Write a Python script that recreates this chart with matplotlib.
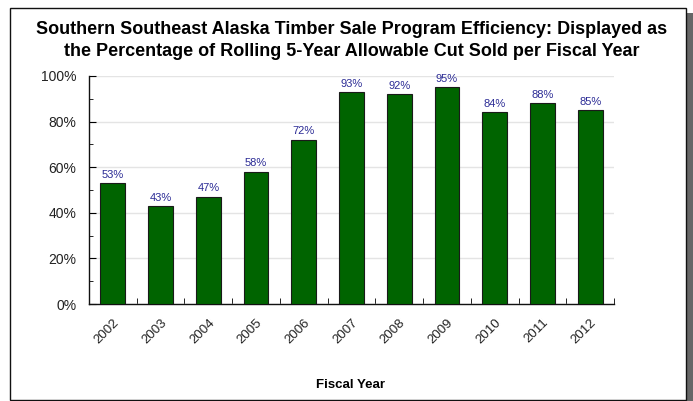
import matplotlib
matplotlib.use('Agg')
import matplotlib.pyplot as plt
import matplotlib.patches as mpatches
import numpy as np

plt.rc('font', family=['Liberation Sans', 'DejaVu Sans'])

years = ['2002', '2003', '2004', '2005', '2006', '2007',
         '2008', '2009', '2010', '2011', '2012']
pct = [53, 43, 47, 58, 72, 93, 92, 95, 84, 88, 85]

fig = plt.figure(figsize=(6.93, 4.01), dpi=100)

# frame with drop shadow on the right
fig.patches.append(mpatches.Rectangle((14/693, 0), 679/693, 388/401, transform=fig.transFigure,
                                      facecolor='#666666', edgecolor='none', zorder=0))
fig.patches.append(mpatches.Rectangle((10/693, 1/401), 676/693, 392/401, transform=fig.transFigure,
                                      facecolor='white', edgecolor='#111111', lw=1, zorder=1))

ax = fig.add_axes([89/693, 1 - 304/401, 525/693, 228/401])
ax.set_zorder(2)
ax.patch.set_alpha(0)

x = np.arange(len(years))
ax.bar(x, pct, width=0.52, color='#006400', edgecolor='#1a1a1a', lw=0.8, zorder=3)
for xi, v in zip(x, pct):
    ax.text(xi, v + 1.5, f'{v}%', ha='center', va='bottom', fontsize=8,
            color='#2b2b95', zorder=4)

ax.set_xlim(-0.5, len(years) - 0.5)
ax.set_ylim(0, 100)
ax.set_yticks(range(0, 101, 20))
ax.set_yticklabels([f'{v}%' for v in range(0, 101, 20)], fontsize=10, color='#222222')
ax.set_yticks(range(10, 100, 20), minor=True)
ax.tick_params(axis='y', which='major', direction='in', length=5, pad=9)
ax.tick_params(axis='y', which='minor', direction='in', length=3)
ax.yaxis.grid(True, color='#e4e4e4', lw=1, zorder=0)
ax.set_axisbelow(True)

ax.set_xticks(x + 0.5, minor=True)
ax.set_xticks(x)
ax.set_xticklabels(years, rotation=45, ha='right', va='top', rotation_mode='anchor',
                   fontsize=9.5, color='#222222')
ax.tick_params(axis='x', which='major', length=0, pad=9)
ax.tick_params(axis='x', which='minor', direction='in', length=4)

for s in ['top', 'right']:
    ax.spines[s].set_visible(False)
for s in ['left', 'bottom']:
    ax.spines[s].set_color('#111111')
    ax.spines[s].set_linewidth(1)

fig.text(352/693, 1 - 30/401, 'Southern Southeast Alaska Timber Sale Program Efficiency: Displayed as',
         ha='center', va='center', fontsize=13, fontweight='bold', zorder=3)
fig.text(352/693, 1 - 52/401, 'the Percentage of Rolling 5-Year Allowable Cut Sold per Fiscal Year',
         ha='center', va='center', fontsize=13, fontweight='bold', zorder=3)
fig.text(351/693, 1 - 385/401, 'Fiscal Year', ha='center', va='center',
         fontsize=9.5, fontweight='bold', zorder=3)

plt.savefig('out.png', dpi=100)
